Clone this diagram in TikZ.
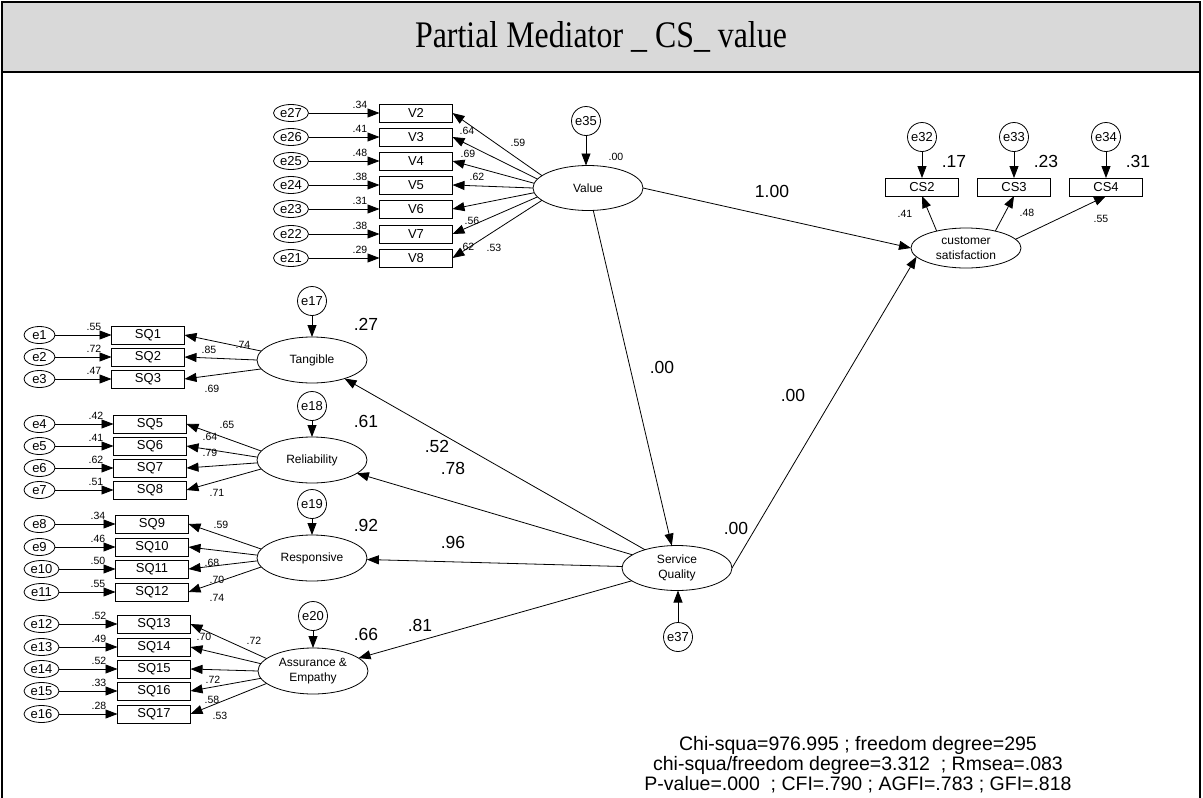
\documentclass[tikz,border=0pt]{standalone}
\usepackage{fontspec}
\setmainfont{Liberation Sans}
\newfontfamily\titlefont{Liberation Serif}
\usetikzlibrary{shapes.geometric,arrows.meta}
\definecolor{bandgray}{HTML}{D9D9D9}
\begin{document}
\begin{tikzpicture}[x=1pt,y=-1pt,
  every node/.style={inner sep=0pt, outer sep=0pt},
  obs/.style={draw, line width=0.8pt, rectangle, minimum width=73pt, minimum height=18pt, font=\fontsize{13}{14}\selectfont},
  errv/.style={draw, line width=0.8pt, ellipse, minimum height=17pt, font=\fontsize{13}{14}\selectfont},
  errc/.style={draw, line width=0.8pt, circle, minimum size=29pt, font=\fontsize{13}{14}\selectfont},
  lat/.style={draw, line width=0.8pt, ellipse, minimum width=110pt, minimum height=45pt, align=center, font=\fontsize{12}{14.5}\selectfont},
  ld/.style={font=\fontsize{10.5}{11}\selectfont},
  big/.style={font=\fontsize{17.5}{18}\selectfont},
  arr/.style={-{Triangle[length=12pt,width=9pt]}, line width=0.8pt},
]
\useasboundingbox (0,0) rectangle (1203,798);

% frame and title band
\fill[bandgray] (2,2) rectangle (1200,72);
\draw[line width=2.5pt] (2,805) -- (2,2) -- (1200,2) -- (1200,805);
\draw[line width=2.5pt] (2,72) -- (1200,72);
\node (title) at (601,37) {\scalebox{0.85}[1]{\titlefont\fontsize{37.5}{40}\selectfont Partial Mediator \_ CS\_ value}};

% latent variables
\node[lat] (value) at (588,188) {Value};
\node[lat] (servq) at (677,568) {Service\\Quality};
\node[lat, minimum height=40pt] (cs) at (966,248) {customer\\satisfaction};
\node[lat, minimum height=46pt] (tang) at (312,360) {Tangible};
\node[lat, minimum height=46pt] (rel) at (312,460) {Reliability};
\node[lat, minimum height=46pt] (resp) at (312,558) {Responsive};
\node[lat, minimum height=46pt] (assur) at (313,671) {Assurance \&\\Empathy};

% disturbances
\node[errc] (e35) at (586,121) {e35};
\node[errc] (e37) at (678,637) {e37};
\node[errc] (e17) at (312,301) {e17};
\node[errc] (e18) at (312,406) {e18};
\node[errc] (e19) at (312,504) {e19};
\node[errc] (e20) at (313,616) {e20};
\draw[arr] (e35) -- (e35 |- value.north);
\draw[arr] (e37) -- (e37 |- servq.south);
\draw[arr] (e17) -- (tang);
\draw[arr] (e18) -- (rel);
\draw[arr] (e19) -- (resp);
\draw[arr] (e20) -- (assur);

% value indicators
\foreach \i/\e/\y/\r/\a in {2/27/113/.34/165, 3/26/137/.41/170, 4/25/161/.48/175,
    5/24/185/.38/180, 6/23/209/.31/185, 7/22/234/.38/190, 8/21/258/.29/195}{
  \node[obs] (v\i) at (416,\y) {V\i};
  \node[errv, minimum width=35pt] (e\e) at (291,\y) {e\e};
  \draw[arr] (e\e) -- (v\i);
  \draw[arr] (value.\a) -- (v\i.east);
  \node[ld] at (360,\y-8) {\r};
}
\node[ld] at (467,131) {.64};
\node[ld] at (518,143) {.59};
\node[ld] at (468,154) {.69};
\node[ld] at (477,177) {.62};
\node[ld] at (472,221) {.56};
\node[ld] at (467,247) {.62};
\node[ld] at (494,248) {.53};
\node[ld] at (616,157) {.00};

% customer satisfaction indicators
\foreach \i/\e/\x/\r in {2/32/922/.17, 3/33/1014/.23, 4/34/1106/.31}{
  \node[obs] (cs\i) at (\x,187) {CS\i};
  \node[errc] (e\e) at (\x,137) {e\e};
  \draw[arr] (e\e) -- (cs\i);
  \node[big] at (\x+32,161) {\r};
}
\draw[arr] (cs.150) -- (cs2.south);
\draw[arr] (cs.30) -- (cs3.south);
\draw[arr] (cs.10) -- (cs4.south);
\node[ld] at (905,214) {.41};
\node[ld] at (1027,213) {.48};
\node[ld] at (1101,219) {.55};

% service quality indicators: tangible
\foreach \i/\e/\y/\r/\a/\w in {1/1/335/.55/170/31, 2/2/357/.72/180/31, 3/3/379/.47/190/31}{
  \node[obs] (sq\i) at (148,\y) {SQ\i};
  \node[errv, minimum width=\w pt] (e\e) at (24+\w/2,\y) {e\e};
  \draw[arr] (e\e) -- (sq\i);
  \draw[arr] (tang.\a) -- (sq\i.east);
  \node[ld] at (94,\y-8) {\r};
}
\node[ld] at (243,345) {.74};
\node[ld] at (209,350) {.85};
\node[ld] at (212,389) {.69};

% reliability
\foreach \i/\e/\y/\r/\a/\w in {5/4/424/.42/170/31, 6/5/446/.41/177/31, 7/6/468/.62/183/31, 8/7/490/.51/190/31}{
  \node[obs] (sq\i) at (150,\y) {SQ\i};
  \node[errv, minimum width=\w pt] (e\e) at (24+\w/2,\y) {e\e};
  \draw[arr] (e\e) -- (sq\i);
  \draw[arr] (rel.\a) -- (sq\i.east);
  \node[ld] at (96,\y-8) {\r};
}
\node[ld] at (227,425) {.65};
\node[ld] at (210,437) {.64};
\node[ld] at (210,453) {.79};
\node[ld] at (217,493) {.71};

% responsiveness
\foreach \i/\e/\y/\r/\a/\w in {9/8/524/.34/170/31, 10/9/547/.46/177/31, 11/10/569/.50/183/35, 12/11/592/.55/190/35}{
  \node[obs] (sq\i) at (152,\y) {SQ\i};
  \node[errv, minimum width=\w pt] (e\e) at (24+\w/2,\y) {e\e};
  \draw[arr] (e\e) -- (sq\i);
  \draw[arr] (resp.\a) -- (sq\i.east);
  \node[ld] at (98,\y-8) {\r};
}
\node[ld] at (221,525) {.59};
\node[ld] at (212,563) {.68};
\node[ld] at (217,580) {.70};
\node[ld] at (217,598) {.74};

% assurance and empathy
\foreach \i/\e/\y/\r/\a/\w in {13/12/624/.52/165/35, 14/13/647/.49/172/35, 15/14/669/.52/180/35, 16/15/691/.33/188/35, 17/16/714/.28/195/35}{
  \node[obs] (sq\i) at (154,\y) {SQ\i};
  \node[errv, minimum width=\w pt] (e\e) at (24+\w/2,\y) {e\e};
  \draw[arr] (e\e) -- (sq\i);
  \draw[arr] (assur.\a) -- (sq\i.east);
  \node[ld] at (99,\y-8) {\r};
}
\node[ld] at (254,641) {.72};
\node[ld] at (204,637) {.70};
\node[ld] at (213,680) {.72};
\node[ld] at (212,700) {.58};
\node[ld] at (220,716) {.53};

% squared multiple correlations of the dimensions
\node[big] at (366,324) {.27};
\node[big] at (366,421) {.61};
\node[big] at (366,525) {.92};
\node[big] at (366,634) {.66};

% structural paths
\draw[arr] (value) -- (servq);
\draw[arr] (value.east) -- (cs.west);
\draw[arr] (servq.east) -- (cs.190);
\draw[arr] (servq) -- (tang);
\draw[arr] (servq) -- (rel);
\draw[arr] (servq) -- (resp);
\draw[arr] (servq) -- (assur);

\node[big] at (772,191) {1.00};
\node[big] at (662,367) {.00};
\node[big] at (793,395) {.00};
\node[big] at (736,528) {.00};
\node[big] at (437,446) {.52};
\node[big] at (453,468) {.78};
\node[big] at (453,542) {.96};
\node[big] at (420,625) {.81};

% fit indices
\node[align=center, font=\fontsize{19.5}{20}\selectfont] (fit) at (858,765)
  {Chi-squa=976.995 ; freedom degree=295\\
   chi-squa/freedom degree=3.312~ ; Rmsea=.083\\
   P-value=.000~ ; CFI=.790 ; AGFI=.783 ; GFI=.818};
\end{tikzpicture}
\end{document}
